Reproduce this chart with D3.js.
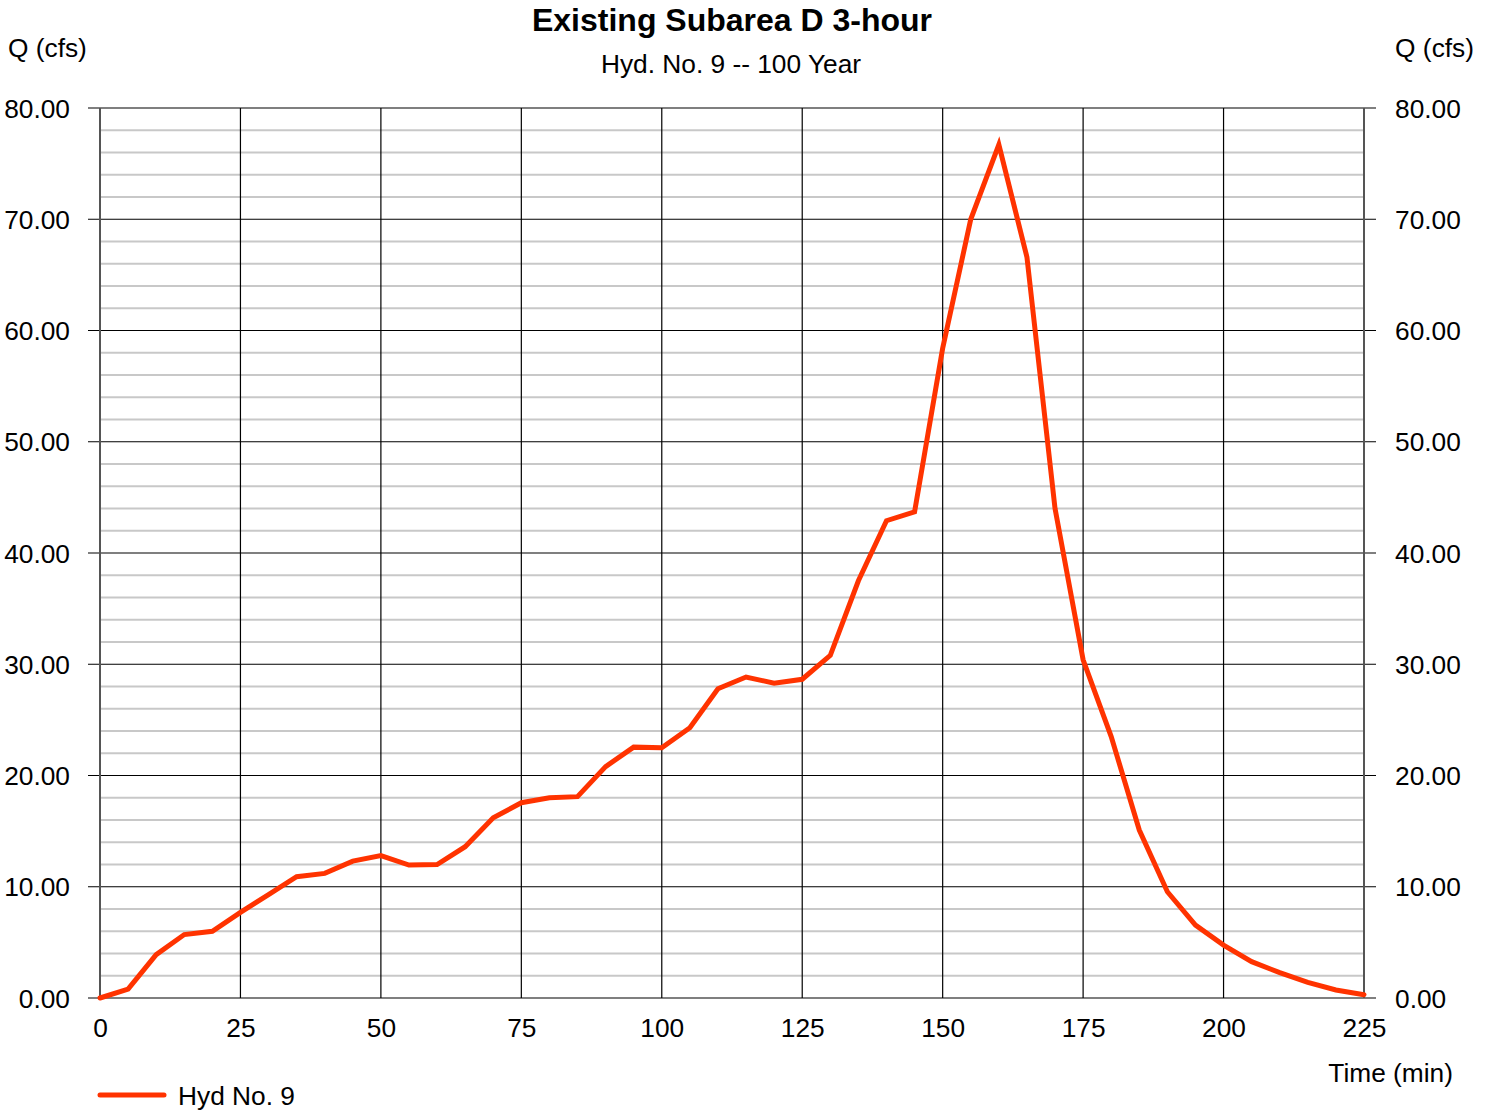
<!DOCTYPE html>
<html><head><meta charset="utf-8">
<script src="https://cdn.jsdelivr.net/npm/d3@7"></script>
<style>body{margin:0;background:#fff;} text{font-family:"Liberation Sans",Arial,sans-serif;fill:#000;}</style>
</head><body>
<svg id="c" width="1493" height="1110"></svg>
<script>
const title = "Existing Subarea D 3-hour";
const subtitle = "Hyd. No. 9 -- 100 Year";
const yLabel = "Q (cfs)";
const xLabel = "Time (min)";
const seriesName = "Hyd No. 9";
const timeMin = [0,5,10,15,20,25,30,35,40,45,50,55,60,65,70,75,80,85,90,95,100,105,110,115,120,125,130,135,140,145,150,155,160,165,170,175,180,185,190,195,200,205,210,215,220,225];
const flowCfs = [0,0.8,3.9,5.7,6.0,7.7,9.3,10.9,11.2,12.3,12.8,11.95,12.0,13.6,16.2,17.55,18.0,18.1,20.8,22.55,22.5,24.3,27.8,28.85,28.3,28.65,30.8,37.5,42.9,43.7,58.4,70.0,76.7,66.6,44.0,30.4,23.5,15.1,9.55,6.55,4.75,3.27,2.28,1.4,0.72,0.3];
const xTicks = [0,25,50,75,100,125,150,175,200,225];
const yTicks = [0,10,20,30,40,50,60,70,80];
const yMinor = d3.range(0,81,2);

const svg = d3.select("#c");
const L=100,R=1364,T=108,B=998;
const FS = "26.3px";
const x = d3.scaleLinear().domain([0,225]).range([L,R]);
const y = d3.scaleLinear().domain([0,80]).range([B,T]);

// minor grid
svg.append("g").selectAll("line").data(yMinor.filter(v=>v%10!==0)).join("line")
  .attr("x1",L).attr("x2",R).attr("y1",d=>y(d)).attr("y2",d=>y(d))
  .attr("stroke","#c8c8c8").attr("stroke-width",2);
// major horizontal grid
svg.append("g").selectAll("line").data(yTicks).join("line")
  .attr("x1",L-12).attr("x2",R+12).attr("y1",d=>y(d)).attr("y2",d=>y(d))
  .attr("stroke","#000").attr("stroke-width",1.2);
// vertical grid
svg.append("g").selectAll("line").data(xTicks).join("line")
  .attr("x1",d=>x(d)).attr("x2",d=>x(d)).attr("y1",T).attr("y2",B)
  .attr("stroke",d=>(d===0||d===225)?"#555":"#000").attr("stroke-width",d=>(d===0||d===225)?2:1.2);

const fmt = d3.format(".2f");
const ga = svg.append("g").attr("transform",`translate(${L-30},0)`)
  .call(d3.axisLeft(y).tickValues(yTicks).tickFormat(fmt).tickSize(0).tickPadding(0));
ga.select(".domain").remove();
ga.selectAll("text").style("font-size",FS).attr("dy","0.35em").attr("font-family","Liberation Sans, Arial");
const gr = svg.append("g").attr("transform",`translate(${R+31},0)`)
  .call(d3.axisRight(y).tickValues(yTicks).tickFormat(fmt).tickSize(0).tickPadding(0));
gr.select(".domain").remove();
gr.selectAll("text").style("font-size",FS).attr("dy","0.35em").attr("font-family","Liberation Sans, Arial");
const gb = svg.append("g").attr("transform",`translate(0,${B+39})`)
  .call(d3.axisBottom(x).tickValues(xTicks).tickFormat(d3.format("d")).tickSize(0).tickPadding(0));
gb.select(".domain").remove();
gb.selectAll("text").style("font-size",FS).attr("dy","0").attr("font-family","Liberation Sans, Arial");

// line
svg.append("path").datum(timeMin.map((t,i)=>[t,flowCfs[i]]))
  .attr("fill","none").attr("stroke","#ff3300").attr("stroke-width",5)
  .attr("stroke-linejoin","miter").attr("stroke-linecap","round")
  .attr("d",d3.line().x(d=>x(d[0])).y(d=>y(d[1])));

// titles
svg.append("text").attr("x",732).attr("y",31).attr("text-anchor","middle")
  .style("font-size","32px").style("font-weight","bold").text(title);
svg.append("text").attr("x",731).attr("y",73).attr("text-anchor","middle")
  .style("font-size",FS).text(subtitle);
svg.append("text").attr("x",8).attr("y",57).style("font-size",FS).text(yLabel);
svg.append("text").attr("x",1474).attr("y",57).attr("text-anchor","end").style("font-size",FS).text(yLabel);
svg.append("text").attr("x",1453).attr("y",1082).attr("text-anchor","end").style("font-size",FS).text(xLabel);

// legend
svg.append("line").attr("x1",100).attr("x2",164).attr("y1",1095).attr("y2",1095)
  .attr("stroke","#ff3300").attr("stroke-width",5).attr("stroke-linecap","round");
svg.append("text").attr("x",178).attr("y",1105).style("font-size",FS).text(seriesName);
</script>
</body></html>
